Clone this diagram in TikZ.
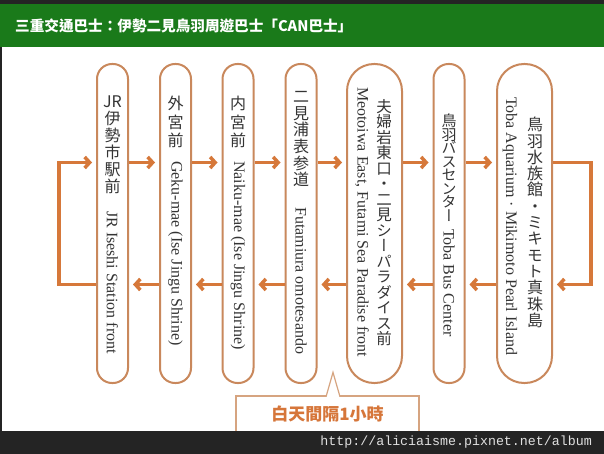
\documentclass[tikz,border=0pt]{standalone}
\usepackage{fontspec}
\setmainfont{Liberation Serif}
\newfontfamily\jpfont[RawFeature=+vert]{Noto Sans CJK JP}
\newfontfamily\tcfont{Noto Sans CJK TC}
\newfontfamily\urlfont{Liberation Mono}
\usetikzlibrary{arrows.meta, positioning, calc}

\definecolor{barGreen}{RGB}{26,122,26}
\definecolor{pageDark}{RGB}{36,36,36}
\definecolor{pillLine}{RGB}{201,136,92}
\definecolor{flowLine}{RGB}{214,120,58}
\definecolor{noteLine}{RGB}{214,164,128}
\definecolor{noteText}{RGB}{214,118,58}
\definecolor{inkGray}{RGB}{52,52,52}

% vertical (tategaki) stack, one glyph per line
\makeatletter
\newcommand\tate[1]{\vbox{\lineskiplimit=-\maxdimen
  \@tfor\tatech:=#1\do{\hbox to 1em{\hss\tatech\hss}}}}
\makeatother

\tikzset{
  stop/.style={draw=pillLine, line width=2pt, fill=white, inner sep=0pt,
    minimum height=319pt, minimum width=31pt, rounded corners=15pt},
  widestop/.style={stop, minimum width=55pt, rounded corners=27pt},
  jp/.style={font=\jpfont\fontsize{16}{17}\selectfont, text=inkGray,
    inner sep=0pt, anchor=north},
  en/.style={font=\fontsize{16}{16}\selectfont, text=inkGray,
    inner sep=0pt, rotate=-90, anchor=west},
  flow/.style={draw=flowLine, line width=3.5pt,
    -{Straight Barb[length=5pt,width=11pt]}, shorten >=4pt},
  noteedge/.style={draw=noteLine, line width=1.2pt}
}

\begin{document}
\begin{tikzpicture}[x=1pt,y=-1pt]
  \useasboundingbox (0,0) rectangle (604,454);

  % Page
  \fill[pageDark] (0,0) rectangle (604,4);
  \fill[barGreen] (0,4) rectangle (604,47);
  \fill[white] (0,47) rectangle (604,431);
  \fill[pageDark] (0,47) rectangle (2,431);
  \node[anchor=west, inner sep=0pt, text=white,
    font=\tcfont\bfseries\fontsize{14.6}{15}\selectfont] (title) at (15,26)
    {三重交通巴士：伊勢二見鳥羽周遊巴士「CAN巴士」};

  % Stops
  \foreach \n/\x/\s in {s1/112.5/stop, s2/175.5/stop, s3/238/stop, s4/301/stop,
                        s5/374.5/widestop, s6/449/stop, s7/524.5/widestop}
    \node[\s] (\n) at (\x,223.5) {};

  % Stop names
  \node[jp] (j1) at ([yshift=-33pt]s1.north) {\tate{{JR}伊勢市駅前}};
  \node[en] (e1) at ([yshift=-148pt]s1.north) {JR Iseshi Station front};
  \node[jp, font=\jpfont\fontsize{16}{18.5}\selectfont] (j2)
    at ([yshift=-33pt]s2.north) {\tate{外宮前}};
  \node[en] (e2) at ([yshift=-98pt]s2.north) {Geku-mae (Ise Jingu Shrine)};
  \node[jp, font=\jpfont\fontsize{16}{18.5}\selectfont] (j3)
    at ([yshift=-33pt]s3.north) {\tate{内宮前}};
  \node[en] (e3) at ([yshift=-98pt]s3.north) {Naiku-mae (Ise Jingu Shrine)};
  \node[jp, font=\jpfont\fontsize{16}{16.7}\selectfont] (j4)
    at ([yshift=-28pt]s4.north) {\tate{二見浦表参道}};
  \node[en] (e4) at ([yshift=-144pt]s4.north) {Futamiura omotesando};
  \node[jp, font=\jpfont\fontsize{15.5}{15.5}\selectfont] (j5)
    at ([xshift=9.5pt,yshift=-36pt]s5.north) {\tate{夫婦岩東口・二見シーパラダイス前}};
  \node[en] (e5) at ([xshift=-12.5pt,yshift=-24pt]s5.north)
    {Meotoiwa East, Futami Sea Paradise front};
  \node[jp, font=\jpfont\fontsize{15}{13.5}\selectfont] (j6)
    at ([yshift=-51pt]s6.north) {\tate{鳥羽バスセンター}};
  \node[en] (e6) at ([yshift=-166pt]s6.north) {Toba Bus Center};
  \node[jp, font=\jpfont\fontsize{16}{16.3}\selectfont] (j7)
    at ([xshift=10.5pt,yshift=-54pt]s7.north) {\tate{鳥羽水族館・ミキモト真珠島}};
  \node[en] (e7) at ([xshift=-14.5pt,yshift=-34pt]s7.north)
    {Toba Aquarium · Mikimoto Pearl Island};

  % Route, both ways
  \foreach \a/\b in {s1/s2, s2/s3, s3/s4, s4/s5, s5/s6, s6/s7} {
    \draw[flow] ([yshift=61pt]\a.east) -- ([yshift=61pt]\b.west);
    \draw[flow] ([yshift=-61pt]\b.west) -- ([yshift=-61pt]\a.east);
  }
  % Turns at both ends
  \draw[flow] ([yshift=-61pt]s1.west) -| ([xshift=-37pt]s1.west) |- ([yshift=61pt]s1.west);
  \draw[flow] ([yshift=61pt]s7.east) -| ([xshift=38pt]s7.east) |- ([yshift=-61pt]s7.east);

  % Callout
  \node[noteedge, fill=white, minimum width=183pt, minimum height=36pt, inner sep=0pt,
    text=noteText, font=\tcfont\bfseries\fontsize{17}{17}\selectfont]
    (note) at (327.5,414) {白天間隔1小時};
  \draw[noteedge, fill=white] ([xshift=-1.5pt,yshift=-1.4pt]note.north)
    -- ([xshift=5.5pt,yshift=23pt]note.north) -- ([xshift=12.5pt,yshift=-1.4pt]note.north);

  % Footer
  \fill[pageDark] (0,431) rectangle (604,454);
  \node[anchor=east, inner sep=0pt, text=black!12,
    font=\urlfont\fontsize{13.3}{14}\selectfont] (url) at (592,442)
    {http://aliciaisme.pixnet.net/album};
\end{tikzpicture}
\end{document}
